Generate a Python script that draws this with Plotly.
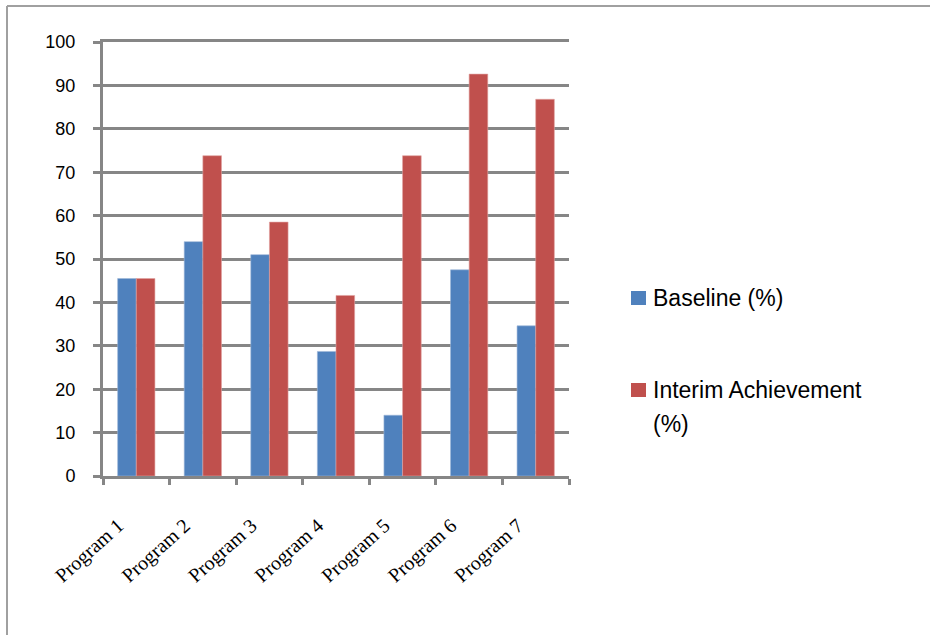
import plotly.graph_objects as go

categories = ["Program 1", "Program 2", "Program 3", "Program 4", "Program 5", "Program 6", "Program 7"]
baseline = [45.5, 54, 51, 28.7, 14, 47.5, 34.6]
interim = [45.5, 73.8, 58.5, 41.6, 73.8, 92.6, 86.8]
series_names = ["Baseline (%)", "Interim Achievement", "(%)"]
colors = ["#4F81BD", "#C0504D"]

W, H = 930, 635
L, R, T, B = 103, 361, 42, 159
pw, ph = W - L - R, H - T - B

def px_x(p):
    return (p - L) / pw

def px_y(p):
    return 1 - (p - T) / ph

fig = go.Figure()
fig.add_trace(go.Bar(x=categories, y=baseline, name="Baseline (%)",
                     marker=dict(color=colors[0], line=dict(width=0.6, color="#9DB7D9"))))
fig.add_trace(go.Bar(x=categories, y=interim, name="Interim Achievement (%)",
                     marker=dict(color=colors[1], line=dict(width=0.6, color="#E0A3A1"))))

grid = "#868686"
fig.update_layout(
    width=W, height=H,
    margin=dict(l=L, r=R, t=T, b=B, pad=0),
    paper_bgcolor="white", plot_bgcolor="white",
    barmode="group", bargap=0.44, bargroupgap=0,
    showlegend=False,
    font=dict(family="Liberation Sans, Arial, sans-serif", color="black"),
    xaxis=dict(showline=True, mirror=True, linecolor=grid, linewidth=3, ticks="outside",
               tickson="boundaries", ticklen=6, tickwidth=3, tickcolor=grid,
               tickangle=-42, tickfont=dict(family="Liberation Serif, Times New Roman, serif", size=20),
               ticklabelstandoff=27, ticklabelshift=-18, showgrid=False, zeroline=False),
    yaxis=dict(range=[0, 100], dtick=10, showline=True, linecolor=grid, linewidth=3,
               ticks="outside", ticklen=7, tickwidth=3, tickcolor=grid,
               showgrid=True, gridcolor=grid, gridwidth=3, zeroline=False,
               tickfont=dict(size=18), ticklabelstandoff=14),
)

# manual legend
legend_font = dict(size=23, family="Liberation Sans, Arial, sans-serif", color="black")
legend_rows = [(series_names[0], colors[0], 298), (series_names[1], colors[1], 390)]
for text, col, yc in legend_rows:
    fig.add_shape(type="rect", xref="paper", yref="paper",
                  x0=px_x(631), x1=px_x(646), y0=px_y(yc - 7), y1=px_y(yc + 7),
                  fillcolor=col, line=dict(width=0))
    fig.add_annotation(text=text, xref="paper", yref="paper", x=px_x(651), y=px_y(yc),
                       xanchor="left", yanchor="middle", showarrow=False, font=legend_font)
fig.add_annotation(text=series_names[2], xref="paper", yref="paper", x=px_x(651), y=px_y(424),
                   xanchor="left", yanchor="middle", showarrow=False, font=legend_font)

# outer frame (top and left edges)
fig.add_shape(type="line", xref="paper", yref="paper", x0=px_x(7), x1=px_x(W + 5),
              y0=px_y(6), y1=px_y(6), line=dict(color="#A0A0A0", width=2))
fig.add_shape(type="line", xref="paper", yref="paper", x0=px_x(7), x1=px_x(7),
              y0=px_y(6), y1=px_y(H + 5), line=dict(color="#A0A0A0", width=2))

fig.write_html("out.html")
